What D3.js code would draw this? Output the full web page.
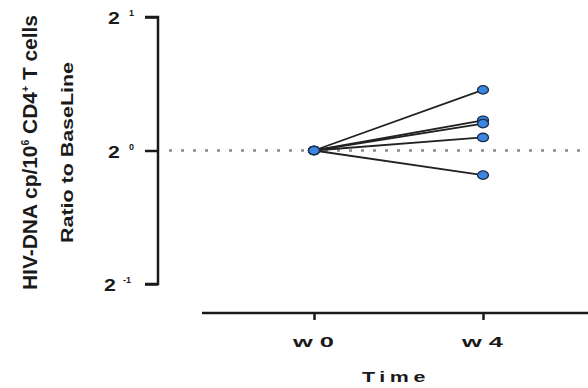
<!DOCTYPE html>
<html><head><meta charset="utf-8">
<script src="https://cdn.jsdelivr.net/npm/d3@7"></script>
<style>body{margin:0;background:#fff}svg{display:block}text{font-family:"Liberation Sans",Arial,sans-serif;font-weight:bold;fill:#1a1a1a}</style>
</head><body>
<script>
const timepoints = ["w 0", "w 4"];
const patients = ["P1", "P2", "P3", "P4", "P5"];
const w0Values = [1, 1, 1, 1, 1];
const w4Values = [1.37, 1.17, 1.15, 1.07, 0.88];
const yTickExps = [1, 0, -1];

const W = 588, H = 388;
const svg = d3.select("body").append("svg").attr("width", W).attr("height", H);

const y = d3.scaleLog().base(2).domain([0.5, 2]).range([284, 17]);
const x = d3.scalePoint().domain(timepoints).range([314, 483]);

// dotted baseline
svg.append("line").attr("x1", 169).attr("x2", W).attr("y1", y(1)).attr("y2", y(1))
  .attr("stroke", "#8a8a8a").attr("stroke-width", 2.5).attr("stroke-dasharray", "3,9");

// y axis
const yAxis = svg.append("g").attr("transform", "translate(158,0)")
  .call(d3.axisLeft(y).tickValues(yTickExps.map(e => Math.pow(2, e))).tickSize(13).tickFormat(""));
yAxis.select(".domain").attr("d", `M-13,${y(2)}H0V${y(0.5)}H-13`).attr("stroke", "#1a1a1a").attr("stroke-width", 2.5);
yAxis.selectAll(".tick line").attr("stroke", "#1a1a1a").attr("stroke-width", 2.5);
yTickExps.forEach(e => {
  const g = svg.append("g").attr("transform", `translate(${e === -1 ? 104 : 108},${y(Math.pow(2, e)) + 7})`);
  g.append("text").attr("font-size", 17).attr("transform", "scale(1.25,1)").text("2");
  g.append("text").attr("x", e === -1 ? 19 : 21).attr("y", -8).attr("font-size", 9).text(e === -1 ? "-1" : String(e));
});

// x axis
const xAxis = svg.append("g").attr("transform", "translate(0,313)")
  .call(d3.axisBottom(x).tickSize(7).tickFormat(""));
xAxis.select(".domain").attr("d", `M202,0H${W}`).attr("stroke", "#1a1a1a").attr("stroke-width", 2.5);
xAxis.selectAll(".tick line").attr("stroke", "#1a1a1a").attr("stroke-width", 2.5);
timepoints.forEach(tp => {
  svg.append("text").attr("x", x(tp) - 21).attr("y", 347)
    .attr("font-size", 14).attr("textLength", 41).attr("lengthAdjust", "spacingAndGlyphs").text(tp);
});
svg.append("text").attr("x", 362).attr("y", 382)
  .attr("font-size", 14).attr("letter-spacing", 3).attr("textLength", 68).attr("lengthAdjust", "spacingAndGlyphs").text("Time");

// y label
const yl1 = svg.append("text").attr("transform", "translate(37,290) rotate(-90)")
  .attr("font-size", 20).attr("textLength", 275).attr("lengthAdjust", "spacingAndGlyphs");
yl1.append("tspan").text("HIV-DNA cp/10");
yl1.append("tspan").attr("dy", -8).attr("font-size", 10).text("6");
yl1.append("tspan").attr("dy", 8).text(" CD4");
yl1.append("tspan").attr("dy", -8).attr("font-size", 10).text("+");
yl1.append("tspan").attr("dy", 8).text(" T cells");
svg.append("text").attr("transform", "translate(73,243) rotate(-90)")
  .attr("font-size", 17).attr("textLength", 181).attr("lengthAdjust", "spacingAndGlyphs")
  .text("Ratio to BaseLine");

// lines
const data = patients.map((p, i) => [{t: "w 0", v: w0Values[i]}, {t: "w 4", v: w4Values[i]}]);
const line = d3.line().x(d => x(d.t)).y(d => y(d.v));
svg.selectAll(".pl").data(data).enter().append("path")
  .attr("d", line).attr("fill", "none").attr("stroke", "#222").attr("stroke-width", 1.8);
const pts = data.flat();
svg.selectAll(".pt").data(pts).enter().append("ellipse")
  .attr("cx", d => x(d.t)).attr("cy", d => y(d.v)).attr("rx", 5.5).attr("ry", 4.2)
  .attr("fill", "#3b86e0").attr("stroke", "#1b2c48").attr("stroke-width", 1.3);
</script>
</body></html>
